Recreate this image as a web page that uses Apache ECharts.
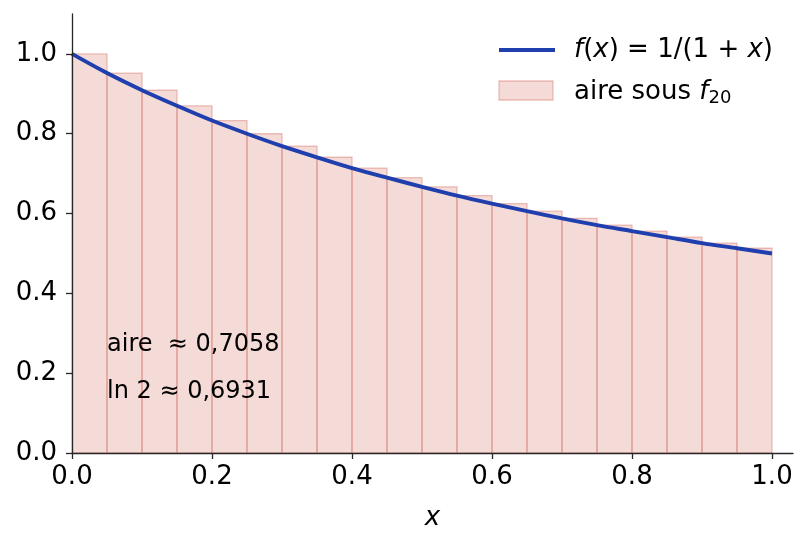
<!DOCTYPE html>
<html>
	<head>
		<meta charset="utf-8">
		<title></title>
		<style>
			body{margin:0;background:#fff;}
			#main{
				width: 808px;
				height: 545px;
			}
		</style>
	</head>
	<body>
		<div id="main"></div>
		<script src="https://cdn.jsdelivr.net/npm/echarts@6/dist/echarts.min.js"></script>
		<script>
			// bords gauches des rectangles (pas 0.05) et hauteurs f(x_k)
			var barLeft=[0,0.05,0.1,0.15,0.2,0.25,0.3,0.35,0.4,0.45,0.5,0.55,0.6,0.65,0.7,0.75,0.8,0.85,0.9,0.95]
			var barHeight=[1.0,0.952,0.909,0.870,0.833,0.800,0.769,0.741,0.714,0.690,0.667,0.645,0.625,0.606,0.588,0.571,0.556,0.541,0.526,0.513]
			var barWidth=0.05
			// points de la courbe f(x)=1/(1+x)
			var curveX=[0,0.05,0.1,0.15,0.2,0.25,0.3,0.35,0.4,0.45,0.5,0.55,0.6,0.65,0.7,0.75,0.8,0.85,0.9,0.95,1.0]
			var curveY=[1.0,0.952,0.909,0.870,0.833,0.800,0.769,0.741,0.714,0.690,0.667,0.645,0.625,0.606,0.588,0.571,0.556,0.541,0.526,0.513,0.5]
			var xTicks=[0,0.2,0.4,0.6,0.8,1.0]
			var yTicks=[0,0.2,0.4,0.6,0.8,1.0]

			var font='DejaVu Sans'
			var axisColor='#262626'
			var barFill='rgba(226,160,150,0.38)'
			var barEdge='rgba(214,120,108,0.45)'
			var bars=barLeft.map((x,i)=>[x,x+barWidth,barHeight[i]])
			var curve=curveX.map((x,i)=>[x,curveY[i]])

			var mychart=echarts.init(document.getElementById("main"))
			var option={
				animation:false,
				grid:{left:72,right:15,top:14,bottom:92},
				xAxis:{
					type:'value',min:0,max:1.03,interval:0.2,z:5,
					axisLine:{lineStyle:{color:axisColor,width:1.3}},
					axisTick:{length:6,lineStyle:{color:axisColor,width:1.3}},
					splitLine:{show:false},
					axisLabel:{
						color:'#000',fontFamily:font,fontSize:26,margin:11,showMaxLabel:false,
						formatter:v=>xTicks.indexOf(+v.toFixed(2))>=0?v.toFixed(1):''
					},
					name:'x',nameLocation:'middle',nameGap:52,
					nameTextStyle:{color:'#000',fontFamily:font,fontSize:26,fontStyle:'italic'}
				},
				yAxis:{
					type:'value',min:0,max:1.1,interval:0.2,z:5,
					axisLine:{show:true,lineStyle:{color:axisColor,width:1.3}},
					axisTick:{show:true,length:6,lineStyle:{color:axisColor,width:1.3}},
					splitLine:{show:false},
					axisLabel:{
						color:'#000',fontFamily:font,fontSize:26,margin:15,showMaxLabel:false,
						formatter:v=>yTicks.indexOf(+v.toFixed(2))>=0?v.toFixed(1):''
					}
				},
				series:[
					{
						name:'aire',
						type:'custom',
						data:bars,
						z:1,
						renderItem:function(params,api){
							var p0=api.coord([api.value(0),api.value(2)])
							var p1=api.coord([api.value(1),0])
							return {
								type:'rect',
								shape:{x:p0[0],y:p0[1],width:p1[0]-p0[0],height:p1[1]-p0[1]},
								style:{fill:barFill,stroke:barEdge,lineWidth:1.3}
							}
						}
					},
					{
						name:'f',
						type:'line',
						data:curve,
						smooth:0.3,
						showSymbol:false,
						z:3,
						lineStyle:{color:'#1f3fae',width:3.9}
					}
				],
				graphic:[
					// légende
					{type:'line',z:10,shape:{x1:499,y1:50,x2:555,y2:50},style:{stroke:'#1f3fae',lineWidth:3.9}},
					{type:'rect',z:10,shape:{x:499,y:81,width:54,height:19},style:{fill:barFill,stroke:barEdge,lineWidth:1.3}},
					{type:'text',z:10,x:574,y:50,style:{
						text:'{i|f}({i|x}) = 1/(1 + {i|x})',fontFamily:font,fontSize:26,fill:'#000',verticalAlign:'middle',
						rich:{i:{fontStyle:'italic',fontFamily:font,fontSize:26}}
					}},
					{type:'text',z:10,x:574,y:92,style:{
						text:'aire sous {i|f}{s|20}',fontFamily:font,fontSize:26,fill:'#000',verticalAlign:'middle',
						rich:{i:{fontStyle:'italic',fontFamily:font,fontSize:26},s:{fontFamily:font,fontSize:18,padding:[12,0,0,0]}}
					}},
					// annotations
					{type:'text',z:10,x:107,y:345,style:{text:'aire  ≈ 0,7058',fontFamily:font,fontSize:24,fill:'#000',verticalAlign:'middle'}},
					{type:'text',z:10,x:107,y:392,style:{text:'ln 2 ≈ 0,6931',fontFamily:font,fontSize:24,fill:'#000',verticalAlign:'middle'}}
				]
			};
			mychart.setOption(option);
		</script>
	</body>
</html>
